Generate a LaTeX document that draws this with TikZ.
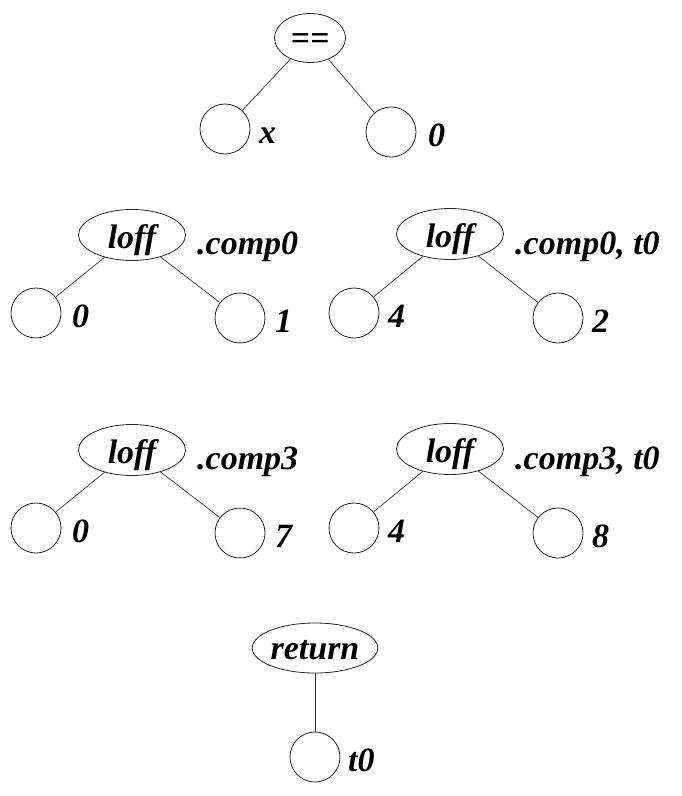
\documentclass[tikz,border=0pt]{standalone}
\usepackage{fontspec}
\setmainfont{Liberation Serif}
\usetikzlibrary{shapes.geometric}
\tikzset{
  opnode/.style={ellipse,draw=black!85,line width=0.8pt,inner sep=0pt,text height=27pt,text depth=0pt,font=\fontsize{34}{40}\selectfont\bfseries\itshape},
  leaf/.style={circle,draw=black!85,line width=0.8pt,minimum size=50pt,inner sep=0pt},
  lbl/.style={anchor=base west,inner sep=0pt,font=\fontsize{34}{40}\selectfont\bfseries\itshape},
  edge/.style={draw=black!80,line width=0.7pt}
}
\begin{document}
\begin{tikzpicture}[x=1pt,y=-1pt]
\useasboundingbox (0,0) rectangle (682,796);
% top
\node[opnode,minimum width=71pt,minimum height=49pt,text height=22pt] (eq) at (310,38) {\textbf{==}};
\node[leaf] (eqa) at (225,129) {};
\node[leaf] (eqb) at (391,132) {};
\node[lbl] (eqal) at (259,143) {x};
\node[lbl] (eqbl) at (428,146) {0};
\draw[edge] (eq) -- (eqa);
\draw[edge] (eq) -- (eqb);
% row 2 left
\node[opnode,minimum width=107pt,minimum height=51pt] (la) at (132,235) {loff};
\node[lbl] (lal) at (197,254) {.comp0};
\node[leaf] (laa) at (36,313) {};
\node[leaf] (lab) at (240,318) {};
\node[lbl] (laal) at (72,327) {0};
\node[lbl] (labl) at (275,332) {1};
\draw[edge] (la) -- (laa);
\draw[edge] (la) -- (lab);
% row 2 right
\node[opnode,minimum width=107pt,minimum height=51pt] (lb) at (450,234) {loff};
\node[lbl] (lbl1) at (515,254) {.comp0, t0};
\node[leaf] (lba) at (354,313) {};
\node[leaf] (lbb) at (558,318) {};
\node[lbl] (lbal) at (388,327) {4};
\node[lbl] (lbbl) at (592,332) {2};
\draw[edge] (lb) -- (lba);
\draw[edge] (lb) -- (lbb);
% row 3 left
\node[opnode,minimum width=107pt,minimum height=51pt] (lc) at (132,450) {loff};
\node[lbl] (lcl) at (197,469) {.comp3};
\node[leaf] (lca) at (36,528) {};
\node[leaf] (lcb) at (240,533) {};
\node[lbl] (lcal) at (72,542) {0};
\node[lbl] (lcbl) at (275,547) {7};
\draw[edge] (lc) -- (lca);
\draw[edge] (lc) -- (lcb);
% row 3 right
\node[opnode,minimum width=107pt,minimum height=51pt] (ld) at (450,449) {loff};
\node[lbl] (ldl) at (515,469) {.comp3, t0};
\node[leaf] (lda) at (354,528) {};
\node[leaf] (ldb) at (558,533) {};
\node[lbl] (ldal) at (388,542) {4};
\node[lbl] (ldbl) at (592,547) {8};
\draw[edge] (ld) -- (lda);
\draw[edge] (ld) -- (ldb);
% bottom
\node[opnode,minimum width=122pt,minimum height=50pt,text height=22pt] (ret) at (315,648) {return};
\node[leaf] (reta) at (315,757) {};
\node[lbl] (retal) at (348,771) {t0};
\draw[edge] (ret) -- (reta);
\end{tikzpicture}
\end{document}
